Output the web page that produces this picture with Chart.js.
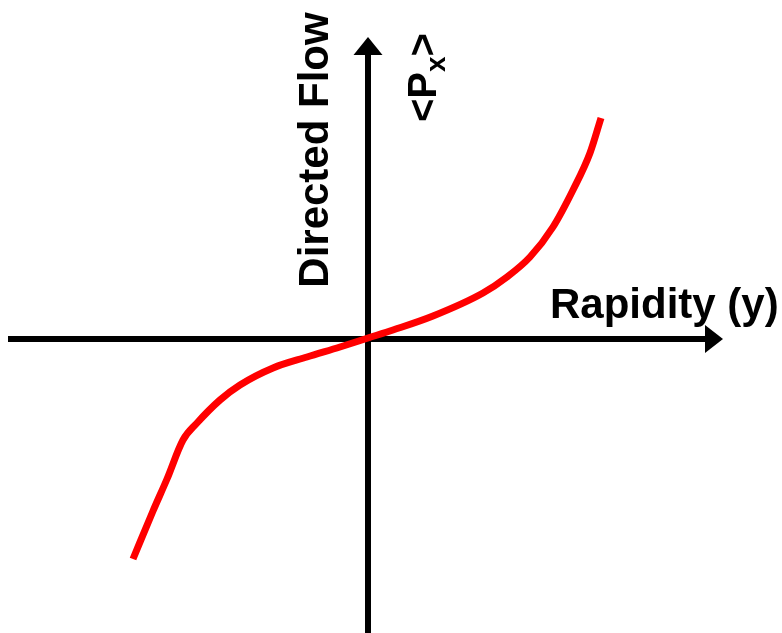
<!DOCTYPE html>
<html>
<head>
<meta charset="utf-8">
<script src="https://cdn.jsdelivr.net/npm/chart.js@4.4.1/dist/chart.umd.min.js"></script>
<style>
  html, body { margin: 0; padding: 0; background: #fff; }
  #wrap { width: 782px; height: 633px; position: relative; }
</style>
</head>
<body>
<div id="wrap"><canvas id="flowChart"></canvas></div>
<script>
// schematic directed flow vs rapidity (arbitrary units)
const rapidity = [-2.35, -2.15, -2.01, -1.85, -1.71, -1.48, -1.28, -0.95, -0.61, -0.28, 0, 0.25, 0.65, 1.15, 1.39, 1.62, 1.85, 2.05, 2.22, 2.33];
const directedFlow = [-2.20, -1.72, -1.40, -1.01, -0.84, -0.61, -0.46, -0.29, -0.18, -0.08, 0.01, 0.09, 0.23, 0.46, 0.62, 0.82, 1.12, 1.49, 1.86, 2.21];

const xLabel = 'Rapidity (y)';
const yLabel = 'Directed Flow';
const pxLabel = ['<', 'P', 'x', '>'];

const FONT = '"Liberation Sans", Arial, sans-serif';

// draws the two arrowed axes through the origin, plus the labels
const axesPlugin = {
    id: 'axesArrows',
    beforeDatasetsDraw(chart) {
        const ctx = chart.ctx;
        const xs = chart.scales.x;
        const ys = chart.scales.y;
        const ox = xs.getPixelForValue(0);
        const oy = ys.getPixelForValue(0);
        const xStart = xs.getPixelForValue(-3.60);
        const xTip = xs.getPixelForValue(3.55);
        const yTip = ys.getPixelForValue(3.02);
        const yEnd = chart.chartArea.bottom;

        ctx.save();
        ctx.strokeStyle = '#000';
        ctx.fillStyle = '#000';
        ctx.lineWidth = 6;

        // x axis
        ctx.beginPath();
        ctx.moveTo(xStart, oy);
        ctx.lineTo(xTip - 10, oy);
        ctx.stroke();
        ctx.beginPath();
        ctx.moveTo(xTip, oy);
        ctx.lineTo(xTip - 18, oy - 14);
        ctx.lineTo(xTip - 18, oy + 14);
        ctx.closePath();
        ctx.fill();

        // y axis
        ctx.beginPath();
        ctx.moveTo(ox, yEnd);
        ctx.lineTo(ox, yTip + 10);
        ctx.stroke();
        ctx.beginPath();
        ctx.moveTo(ox, yTip);
        ctx.lineTo(ox - 14.5, yTip + 18);
        ctx.lineTo(ox + 14.5, yTip + 18);
        ctx.closePath();
        ctx.fill();

        // labels
        ctx.font = 'bold 42px ' + FONT;
        ctx.textBaseline = 'alphabetic';
        ctx.textAlign = 'left';
        ctx.fillText(xLabel, ox + 182, oy - 21);

        ctx.save();
        ctx.translate(ox - 40, 150);
        ctx.rotate(-Math.PI / 2);
        ctx.textAlign = 'center';
        ctx.fillText(yLabel, 0, 0);
        ctx.restore();

        ctx.save();
        ctx.translate(ox + 68, 122);
        ctx.rotate(-Math.PI / 2);
        ctx.textAlign = 'left';
        let pos = 0;
        ctx.font = 'bold 40px ' + FONT;
        ctx.fillText(pxLabel[0], pos, 0);
        pos += ctx.measureText(pxLabel[0]).width;
        ctx.fillText(pxLabel[1], pos, 0);
        pos += ctx.measureText(pxLabel[1]).width;
        ctx.font = 'bold 28px ' + FONT;
        ctx.fillText(pxLabel[2], pos, 9);
        pos += ctx.measureText(pxLabel[2]).width;
        ctx.font = 'bold 40px ' + FONT;
        ctx.fillText(pxLabel[3], pos, 0);
        ctx.restore();

        ctx.restore();
    }
};

new Chart(document.getElementById('flowChart'), {
    type: 'scatter',
    data: {
        datasets: [{
            data: rapidity.map((r, i) => ({ x: r, y: directedFlow[i] })),
            showLine: true,
            borderColor: '#ff0000',
            borderWidth: 7,
            pointRadius: 0,
            cubicInterpolationMode: 'monotone',
            fill: false
        }]
    },
    options: {
        responsive: true,
        maintainAspectRatio: false,
        animation: false,
        layout: { padding: 0 },
        plugins: {
            legend: { display: false },
            tooltip: { enabled: false }
        },
        scales: {
            x: { type: 'linear', display: false, min: -3.68, max: 4.14 },
            y: { type: 'linear', display: false, min: -2.94, max: 3.39 }
        }
    },
    plugins: [axesPlugin]
});
</script>
</body>
</html>
